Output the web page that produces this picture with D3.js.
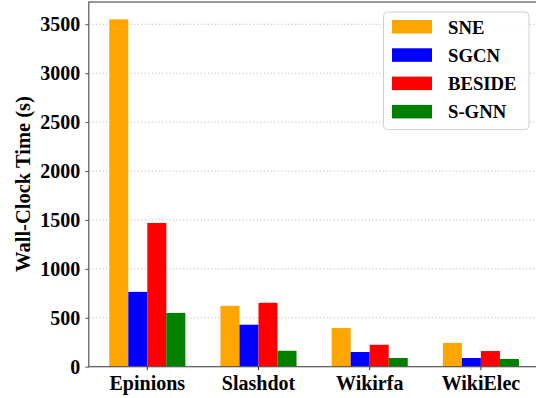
<!DOCTYPE html>
<html>
<head>
<meta charset="utf-8">
<script src="https://cdn.jsdelivr.net/npm/d3@7"></script>
<style>
  html, body { margin: 0; padding: 0; background: #fff; }
  svg { display: block; }
</style>
</head>
<body>
<svg id="chart" width="536" height="398"></svg>
<script>
// Datasets on the x axis
const datasets = ["Epinions", "Slashdot", "Wikirfa", "WikiElec"];
// Methods compared (one bar per method in each group)
const methods = ["SNE", "SGCN", "BESIDE", "S-GNN"];
const methodColors = ["orange", "blue", "red", "green"];
// Wall-clock time in seconds, one array per method, ordered as datasets
const sneTimes    = [3550, 622, 395, 242];
const sgcnTimes   = [765, 429, 150, 89];
const besideTimes = [1469, 653, 224, 160];
const sgnnTimes   = [550, 163, 89, 79];
// Y tick values
const yTicks = [0, 500, 1000, 1500, 2000, 2500, 3000, 3500];

const seriesValues = [sneTimes, sgcnTimes, besideTimes, sgnnTimes];
const FONT = "'Liberation Serif', 'Times New Roman', Times, 'DejaVu Serif', serif";

const svg = d3.select("#chart");
const plot = { left: 88.8, top: 2, right: 539.3, bottom: 366.7 };

const y = d3.scaleLinear()
  .domain([0, d3.max(sneTimes) * 1.05])
  .range([plot.bottom, plot.top]);

const x = d3.scaleBand()
  .domain(datasets)
  .range([91.7, 536.5])
  .paddingInner(0.316)
  .paddingOuter(0.158);

const xSub = d3.scaleBand()
  .domain(methods)
  .range([0, x.bandwidth()])
  .padding(0);

const color = d3.scaleOrdinal().domain(methods).range(methodColors);

// Dotted horizontal grid
svg.append("g")
  .selectAll("line")
  .data(yTicks.filter(t => t > 0))
  .join("line")
  .attr("x1", plot.left)
  .attr("x2", plot.right)
  .attr("y1", d => y(d))
  .attr("y2", d => y(d))
  .attr("stroke", "#b0b0b0")
  .attr("stroke-width", 1)
  .attr("stroke-dasharray", "1,2.5");

// Bars
const groups = svg.append("g")
  .selectAll("g")
  .data(datasets)
  .join("g")
  .attr("transform", d => `translate(${x(d)},0)`);

groups.selectAll("rect")
  .data((d, i) => methods.map((m, j) => ({ method: m, value: seriesValues[j][i] })))
  .join("rect")
  .attr("x", d => xSub(d.method))
  .attr("width", xSub.bandwidth())
  .attr("y", d => y(d.value))
  .attr("height", d => y(0) - y(d.value))
  .attr("fill", d => color(d.method));

// Frame
svg.append("rect")
  .attr("x", plot.left)
  .attr("y", plot.top)
  .attr("width", plot.right - plot.left)
  .attr("height", plot.bottom - plot.top)
  .attr("fill", "none")
  .attr("stroke", "#555")
  .attr("stroke-width", 1.2);

function styleText(sel, size) {
  sel.style("font-family", FONT)
    .style("font-weight", "bold")
    .style("font-size", size + "px")
    .attr("fill", "#000");
}

// Y axis
const yAxis = svg.append("g")
  .attr("transform", `translate(${plot.left},0)`)
  .call(d3.axisLeft(y).tickValues(yTicks).tickSize(3.5).tickPadding(5).tickFormat(d3.format("d")));
yAxis.attr("font-family", null);
yAxis.select(".domain").remove();
yAxis.selectAll(".tick line").attr("stroke", "#555");
styleText(yAxis.selectAll("text"), 20);

// X axis
const xAxis = svg.append("g")
  .attr("transform", `translate(0,${plot.bottom})`)
  .call(d3.axisBottom(x).tickSize(3.5));
xAxis.attr("font-family", null);
xAxis.select(".domain").remove();
xAxis.selectAll(".tick line").attr("stroke", "#333");
styleText(xAxis.selectAll("text"), 20);
xAxis.selectAll("text").attr("y", 23).attr("dy", "0");

// Y axis title
styleText(svg.append("text")
  .attr("transform", "translate(30,184) rotate(-90)")
  .attr("text-anchor", "middle")
  .text("Wall-Clock Time (s)"), 20.5);

// Legend
const legend = svg.append("g");
legend.append("rect")
  .attr("x", 383.5)
  .attr("y", 12)
  .attr("width", 145.5)
  .attr("height", 117.5)
  .attr("rx", 4)
  .attr("fill", "#fff")
  .attr("fill-opacity", 0.8)
  .attr("stroke", "#d0d0d0")
  .attr("stroke-width", 1);

const items = legend.selectAll("g.item")
  .data(methods)
  .join("g")
  .attr("class", "item")
  .attr("transform", (d, i) => `translate(392,${20 + i * 28.3})`);
items.append("rect")
  .attr("width", 40)
  .attr("height", 13.5)
  .attr("fill", d => color(d));
styleText(items.append("text")
  .attr("x", 56)
  .attr("y", 13.5)
  .text(d => d), 18.7);
</script>
</body>
</html>
